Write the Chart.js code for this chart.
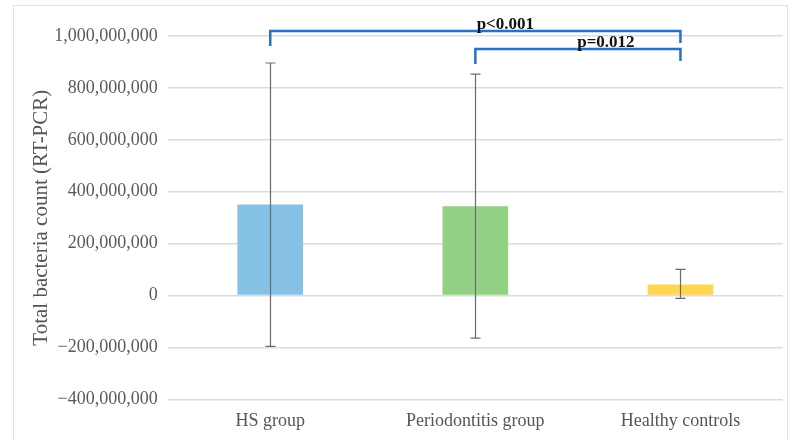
<!DOCTYPE html>
<html>
<head>
<meta charset="utf-8">
<script src="https://cdn.jsdelivr.net/npm/chart.js@4.4.1/dist/chart.umd.min.js"></script>
<style>
  html, body { margin: 0; padding: 0; background: #fff; }
  #wrap { position: relative; width: 797px; height: 440px; }
  #frame { position: absolute; left: 13px; top: 5px; width: 775px; height: 450px; border: 1px solid #e3e3e3; box-sizing: border-box; }
  canvas { position: absolute; left: 0; top: 0; }
</style>
</head>
<body>
<div id="wrap">
  <div id="frame"></div>
  <canvas id="chart" width="797" height="440"></canvas>
</div>
<script>
// data
const groups = ['HS group', 'Periodontitis group', 'Healthy controls'];
const means = [351000000, 344000000, 43000000];
const errLow = [-196000000, -164000000, -11000000];
const errHigh = [896000000, 853000000, 101000000];
const barColors = ['#86C1E6', '#92D084', '#FFD650'];

// significance brackets: [from index, to index, level, label]
const brackets = [
  [0, 2, 1019000000, 'p<0.001'],
  [1, 2, 950000000, 'p=0.012']
];

const fmt = v => {
  const s = Math.abs(v).toLocaleString('en-US');
  return v < 0 ? '\u2212' + s : s;
};

const serif = "'Liberation Serif', 'DejaVu Serif', serif";

const errorBars = {
  id: 'errorBars',
  afterDatasetsDraw(chart) {
    const ctx = chart.ctx;
    const x = chart.scales.x, y = chart.scales.y;
    ctx.save();
    ctx.strokeStyle = '#6b6b6b';
    ctx.lineWidth = 1.2;
    groups.forEach((g, i) => {
      const cx = Math.round(x.getPixelForValue(i)) + 0.5;
      const top = y.getPixelForValue(errHigh[i]);
      const bot = y.getPixelForValue(errLow[i]);
      ctx.beginPath();
      ctx.moveTo(cx, top); ctx.lineTo(cx, bot);
      ctx.moveTo(cx - 5, top); ctx.lineTo(cx + 5, top);
      ctx.moveTo(cx - 5, bot); ctx.lineTo(cx + 5, bot);
      ctx.stroke();
    });
    ctx.restore();
  },
  afterDraw(chart) {
    const ctx = chart.ctx;
    const x = chart.scales.x, y = chart.scales.y;
    ctx.save();
    ctx.strokeStyle = '#2672C9';
    ctx.lineWidth = 2.5;
    brackets.forEach(([a, b, lvl, label], k) => {
      const x1 = x.getPixelForValue(a), x2 = x.getPixelForValue(b);
      const yy = y.getPixelForValue(lvl);
      ctx.beginPath();
      ctx.moveTo(x1, yy + 15); ctx.lineTo(x1, yy); ctx.lineTo(x2, yy); ctx.lineTo(x2, yy + 12);
      ctx.stroke();
      ctx.fillStyle = '#111';
      ctx.font = "bold 17px " + serif;
      ctx.textAlign = 'center';
      ctx.textBaseline = 'alphabetic';
      ctx.fillText(label, (x1 + x2) / 2 + (k === 0 ? 30 : 28), yy - 2);
    });
    ctx.restore();
  }
};

new Chart(document.getElementById('chart'), {
  type: 'bar',
  data: {
    labels: groups,
    datasets: [{
      data: means,
      backgroundColor: barColors,
      categoryPercentage: 1,
      barPercentage: 0.32
    }]
  },
  options: {
    responsive: false,
    animation: false,
    layout: { padding: { left: 25, right: 14, top: 36, bottom: 5 } },
    plugins: { legend: { display: false }, tooltip: { enabled: false } },
    scales: {
      x: {
        grid: { display: false },
        border: { display: false },
        ticks: { color: '#555', font: { family: serif, size: 18 }, padding: 3 }
      },
      y: {
        min: -400000000,
        max: 1000000000,
        grid: { color: '#dcdcdc', lineWidth: 1.5, drawTicks: false },
        border: { display: false },
        ticks: {
          stepSize: 200000000,
          color: '#595959',
          padding: 10,
          font: { family: serif, size: 18 },
          callback: v => fmt(v)
        },
        title: {
          display: true,
          text: 'Total bacteria count (RT-PCR)',
          color: '#555',
          font: { family: serif, size: 21 },
          padding: { top: 4, bottom: -10 }
        }
      }
    }
  },
  plugins: [errorBars]
});
</script>
</body>
</html>
